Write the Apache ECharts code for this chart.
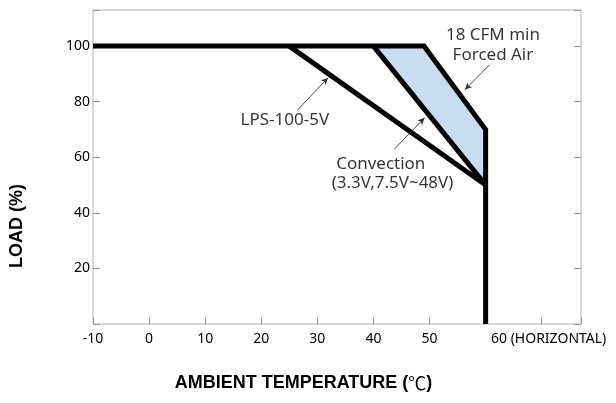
<!DOCTYPE html>
<html>
<head>
<meta charset="utf-8">
<script src="https://cdn.jsdelivr.net/npm/echarts@6/dist/echarts.min.js"></script>
<style>html,body{margin:0;padding:0;background:#fff}#c{width:616px;height:403px}</style>
</head>
<body>
<div id="c"></div>
<script>
// ---- data ----
const forcedAir = [[-10, 100], [49, 100], [60, 70], [60, 0]];
const lps5v = [[25, 100], [60, 50]];
const convection = [[40, 100], [60, 50]];
const forcedZone = [[40, 100], [49, 100], [60, 70], [60, 50]];
const arrows = [
  [[26.5, 77.1], [31.9, 88.6]],
  [[43.8, 63.1], [49.1, 74.2]],
  [[60.7, 93.3], [56.3, 84.3]]
];
const notes = [
  {name: 'LPS-100-5V', value: [24.2, 73.2]},
  {name: 'Convection', value: [41.3, 57.5]},
  {name: '(3.3V,7.5V~48V)', value: [43.4, 50.8]},
  {name: '18 CFM min', value: [61.3, 104.1]},
  {name: 'Forced Air', value: [61.3, 96.9]}
];
const xTickLabels = {'-10': '-10', '0': '0', '10': '10', '20': '20', '30': '30', '40': '40', '50': '50', '60': '{h|60 (HORIZONTAL)}'};
const yTickLabels = [20, 40, 60, 80, 100];

const chart = echarts.init(document.getElementById('c'), null, {renderer: 'canvas'});
const lineStyle = {color: '#000', width: 5, join: 'miter', cap: 'butt'};
const tickFont = {color: '#000', fontSize: 14, fontFamily: "'Noto Sans', sans-serif"};
const tickOnlyAxis = pos => ({
  type: 'value', min: 0, max: 113, interval: 20, position: pos,
  axisLine: {show: false, onZero: false},
  axisTick: {show: true, inside: true, length: 7, lineStyle: {color: '#999'}},
  splitLine: {show: false},
  axisLabel: {show: false}
});

chart.setOption({
  animation: false,
  grid: {left: 93, right: 35, top: 10, bottom: 79, show: true, borderColor: '#b0b0b0', borderWidth: 1},
  xAxis: {
    type: 'value', min: -10, max: 77, interval: 10,
    axisLine: {show: false, onZero: false},
    axisTick: {show: true, inside: true, length: 7, lineStyle: {color: '#999'}},
    splitLine: {show: false},
    axisLabel: Object.assign({
      margin: 8,
      formatter: v => xTickLabels[String(v)] || '',
      rich: {h: Object.assign({padding: [0, 0, 0, 126]}, tickFont)}
    }, tickFont),
    name: '{b|AMBIENT TEMPERATURE (}{c|℃}{b|)}',
    nameLocation: 'middle', nameGap: 50,
    nameTextStyle: {
      padding: [0, 67, 0, 0],
      rich: {
        b: {fontFamily: "'Liberation Sans', Arial, sans-serif", fontWeight: 'bold', fontSize: 18, color: '#000'},
        c: {fontFamily: "'Noto Sans CJK SC', sans-serif", fontWeight: 'normal', fontSize: 18, color: '#000'}
      }
    }
  },
  yAxis: [{
    type: 'value', min: 0, max: 113, interval: 20, position: 'left',
    axisLine: {show: false, onZero: false},
    axisTick: {show: false},
    splitLine: {show: false},
    axisLabel: Object.assign({margin: 3, formatter: v => yTickLabels.includes(v) ? String(v) : ''}, tickFont),
    name: 'LOAD (%)', nameLocation: 'middle', nameGap: 67,
    nameTextStyle: {fontFamily: "'Liberation Sans', Arial, sans-serif", fontWeight: 'bold', fontSize: 18, color: '#000', padding: [0, 118, 0, 0]}
  }, tickOnlyAxis('right'), tickOnlyAxis('left')],
  series: [
    {
      type: 'custom', silent: true, z: 1,
      renderItem: (params, api) => {
        if (params.dataIndex !== 0) return null;
        const pts = forcedZone.map(p => api.coord(p));
        return {type: 'polygon', shape: {points: pts}, style: {fill: '#c9dcf1', stroke: null}};
      },
      data: [[0, 0]]
    },
    {type: 'line', data: forcedAir, symbol: 'none', lineStyle: lineStyle, z: 3},
    {type: 'line', data: lps5v, symbol: 'none', lineStyle: lineStyle, z: 3},
    {type: 'line', data: convection, symbol: 'none', lineStyle: lineStyle, z: 3},
    {
      type: 'line', data: [], symbol: 'none',
      markLine: {
        silent: true, symbol: ['none', 'arrow'], symbolSize: [5, 7],
        label: {show: false},
        lineStyle: {color: '#333', width: 0.9, type: 'solid'},
        data: arrows.map(a => [{coord: a[0]}, {coord: a[1]}])
      }
    },
    {
      type: 'scatter', data: notes, symbol: 'circle', symbolSize: 1, silent: true,
      itemStyle: {color: 'rgba(0,0,0,0)'},
      label: {show: true, position: 'inside', formatter: p => p.name, color: '#000', fontSize: 17, fontFamily: "'Noto Sans', sans-serif"}
    }
  ]
});
</script>
</body>
</html>
